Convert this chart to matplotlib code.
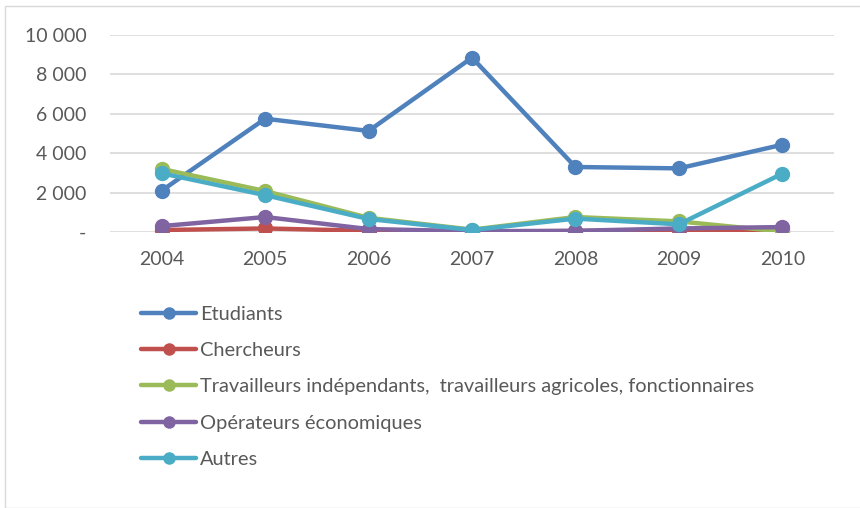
import matplotlib.pyplot as plt
from matplotlib.patches import Rectangle
from matplotlib.ticker import FuncFormatter

annees = ['2004', '2005', '2006', '2007', '2008', '2009', '2010']
etudiants = [2100, 5750, 5130, 8850, 3300, 3230, 4430]
chercheurs = [100, 180, 60, 20, 50, 90, 100]
travailleurs = [3200, 2080, 720, 120, 760, 540, 20]
operateurs = [300, 760, 150, 40, 60, 180, 250]
autres = [2980, 1870, 660, 100, 680, 390, 2960]

noms = ['Etudiants', 'Chercheurs',
        'Travailleurs indépendants,  travailleurs agricoles, fonctionnaires',
        'Opérateurs économiques', 'Autres']
couleurs = ['#4F81BD', '#C0504D', '#9BBB59', '#8064A2', '#4BACC6']
series = [etudiants, chercheurs, travailleurs, operateurs, autres]

plt.rcParams['font.family'] = ['Lato', 'DejaVu Sans']

fig = plt.figure(figsize=(8.6, 5.08), dpi=100)
ax = fig.add_axes([110 / 860, 1 - 232 / 508, 724 / 860, 197 / 508])

x = list(range(len(annees)))
for vals, nom, c in zip(series, noms, couleurs):
    ax.plot(x, vals, color=c, linewidth=3.2, marker='o', markersize=10,
            label=nom, solid_capstyle='round')

ax.set_xlim(-0.5, len(annees) - 0.5)
ax.set_ylim(0, 10000)
ax.set_yticks(range(0, 10001, 2000))
ax.yaxis.set_major_formatter(FuncFormatter(
    lambda v, p: '-' if v == 0 else f'{int(v):,}'.replace(',', ' ')))
ax.set_xticks(x)
ax.set_xticklabels(annees)
ax.grid(axis='y', color='#D9D9D9', linewidth=1.2)
ax.set_axisbelow(True)
for s in ax.spines.values():
    s.set_visible(False)
ax.tick_params(length=0, labelsize=14, colors='#595959')
ax.tick_params(axis='x', pad=14)
ax.tick_params(axis='y', pad=17)

fig.patches.append(Rectangle((5 / 860, 0), 1, 1 - 6 / 508, transform=fig.transFigure,
                             fill=False, edgecolor='#D9D9D9', linewidth=1))

leg = fig.legend(loc='upper left', bbox_to_anchor=(141 / 860, 1 - 306 / 508),
                 frameon=False, fontsize=14.4, labelspacing=0.96, handlelength=2.75,
                 handletextpad=0.2, borderaxespad=0, borderpad=0)
for t in leg.get_texts():
    t.set_color('#595959')
for h in leg.legend_handles:
    h.set_markersize(8)

fig.savefig('out.png', dpi=100)
